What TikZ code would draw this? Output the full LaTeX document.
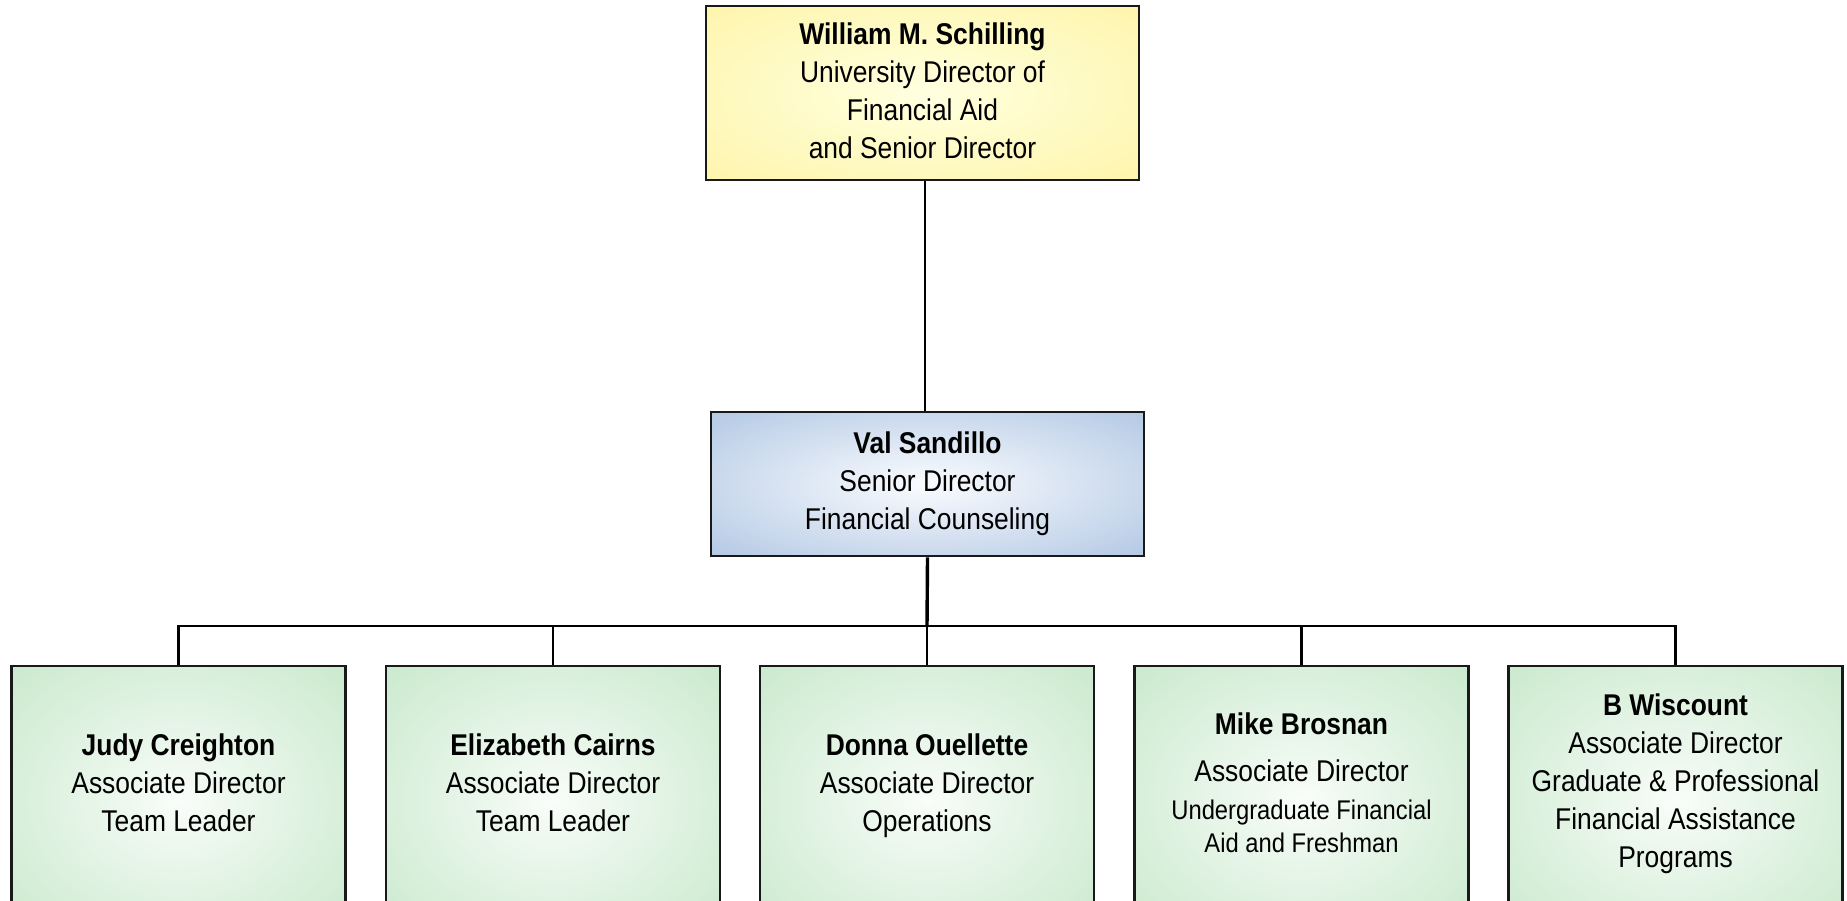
\documentclass[tikz,border=0pt]{standalone}
\usepackage{fontspec}
\setmainfont[FakeStretch=0.88]{Liberation Sans}
\definecolor{bordc}{RGB}{25,25,25}
\pgfdeclareradialshading{yshade}{\pgfpoint{0bp}{0bp}}{color(0bp)=(rgb,255:red,255;green,255;blue,225); color(6bp)=(rgb,255:red,255;green,254;blue,215); color(50bp)=(rgb,255:red,253;green,240;blue,150); color(100bp)=(rgb,255:red,253;green,240;blue,150)}
\pgfdeclareradialshading{bshade}{\pgfpoint{0bp}{0bp}}{color(0bp)=(rgb,255:red,250;green,252;blue,255); color(6bp)=(rgb,255:red,238;green,243;blue,250); color(50bp)=(rgb,255:red,151;green,180;blue,218); color(100bp)=(rgb,255:red,151;green,180;blue,218)}
\pgfdeclareradialshading{gshade}{\pgfpoint{0bp}{0bp}}{color(0bp)=(rgb,255:red,250;green,253;blue,250); color(6bp)=(rgb,255:red,240;green,249;blue,241); color(50bp)=(rgb,255:red,184;green,226;blue,188); color(100bp)=(rgb,255:red,184;green,226;blue,188)}
\tikzset{
  box/.style={draw=bordc, line width=2.6pt, rectangle, inner sep=0pt},
  ybox/.style={box, shading=yshade, minimum width=433pt, minimum height=174pt},
  bbox/.style={box, shading=bshade, minimum width=433pt, minimum height=144pt},
  gbox/.style={box, shading=gshade, minimum width=334pt, minimum height=268pt},
  txt/.style={align=center, font=\fontsize{30}{38}\selectfont, inner sep=0pt, text=black},
  conn/.style={line width=2.4pt, draw=black},
}
\begin{document}
\begin{tikzpicture}[x=1pt,y=-1pt]
\useasboundingbox (0,0) rectangle (1847,900);
\clip (0,0) rectangle (1847,900);
% top
\node[ybox] (ws) at (922.5,93) {};
\node[txt, anchor=north] (wst) at (922.5,23) {\bfseries William M. Schilling\\University Director of\\Financial Aid\\and Senior Director};
\node[bbox] (vs) at (927.5,484) {};
\node[txt] (vst) at (927.5,484) {\bfseries Val Sandillo\\Senior Director\\Financial Counseling};
% bottom boxes
\node[gbox] (b1) at (178.5,800) {};
\node[gbox] (b2) at (553,800) {};
\node[gbox] (b3) at (927,800) {};
\node[gbox] (b4) at (1301.5,800) {};
\node[gbox] (b5) at (1675.5,800) {};
\node[txt, anchor=north] (t1) at (178.5,733.5) {\bfseries Judy Creighton\\Associate Director\\Team Leader};
\node[txt, anchor=north] (t2) at (553,733.5) {\bfseries Elizabeth Cairns\\Associate Director\\Team Leader};
\node[txt, anchor=north] (t3) at (927,733.5) {\bfseries Donna Ouellette\\Associate Director\\Operations};
\node[txt, anchor=north] (t4) at (1301.5,712.5) {\bfseries Mike Brosnan\\[9pt]Associate Director\\\fontsize{27}{33}\selectfont Undergraduate Financial\\[-5pt]\fontsize{27}{33}\selectfont Aid and Freshman};
\node[txt, anchor=north] (t5) at (1675.5,694) {\bfseries B Wiscount\\Associate Director\\Graduate \& Professional\\Financial Assistance\\Programs};
% connectors
\coordinate (bus) at (927,626);
\draw[conn] (ws.south -| 925,0) -- (vs.north -| 925,0);
\draw[conn, line width=3.4pt] (vs.south) -- (bus);
\draw[conn] (b1.north) |- (bus) -| (b5.north);
\draw[conn] (b2.north) -- (b2.north |- bus);
\draw[conn] (b3.north) -- (bus);
\draw[conn] (b4.north) -- (b4.north |- bus);
\end{tikzpicture}
\end{document}
